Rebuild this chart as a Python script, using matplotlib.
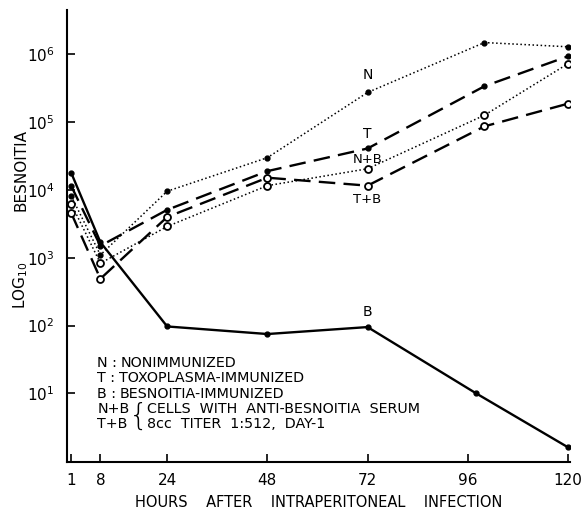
import matplotlib
matplotlib.use("Agg")
import matplotlib.pyplot as plt

plt.rcParams['font.family'] = ['DejaVu Sans']
plt.rcParams['mathtext.fontset'] = 'dejavusans'

# hours after infection (the "96" group is plotted a bit past the 96 tick)
hours = [1, 8, 24, 48, 72, 100, 120]
N = [8200, 1100, 9600, 30000, 275000, 1.5e6, 1.3e6]
T = [11500, 1500, 5100, 19000, 41000, 340000, 940000]
B_hours = [1, 8, 24, 48, 72, 98, 120]
B = [18000, 1700, 97, 75, 95, 10, 1.6]
NB = [6300, 830, 2900, 11600, 20600, 127000, 730000]
TB = [4600, 490, 4000, 15200, 11600, 87000, 188000]

xticks = [1, 8, 24, 48, 72, 96, 120]
yticks = [1e1, 1e2, 1e3, 1e4, 1e5, 1e6]
legend_keys = ["N : ", "T : ", "B : ", "N+B", "T+B"]
legend_text = ["NONIMMUNIZED",
               "TOXOPLASMA-IMMUNIZED",
               "BESNOITIA-IMMUNIZED",
               "CELLS  WITH  ANTI-BESNOITIA  SERUM",
               "8cc  TITER  1:512,  DAY-1"]

fig = plt.figure(figsize=(5.82, 5.11), dpi=100)
ax = fig.add_axes([0.1151, 0.0959, 0.8643, 0.8841])

ax.plot(hours, N, color='black', ls=':', lw=1.1, marker='o', ms=3.5, mfc='black')
ax.plot(hours, T, color='black', ls=(0, (7, 3.5)), lw=1.7, marker='o', ms=3.5, mfc='black')
ax.plot(B_hours, B, color='black', ls='-', lw=1.7, marker='o', ms=3.5, mfc='black')
ax.plot(hours, NB, color='black', ls=':', lw=1.1, marker='o', ms=5, mfc='white', mew=1.3)
ax.plot(hours, TB, color='black', ls=(0, (7, 3.5)), lw=1.7, marker='o', ms=5, mfc='white', mew=1.3)

# curve labels near the 72 h points
ax.text(hours[4], N[4] * 1.45, "N", ha='center', va='bottom', fontsize=10)
ax.text(hours[4], T[4] * 1.3, "T", ha='center', va='bottom', fontsize=10)
ax.text(hours[4], NB[4] * 1.1, "N+B", ha='center', va='bottom', fontsize=9.5)
ax.text(hours[4], TB[4] * 0.78, "T+B", ha='center', va='top', fontsize=9.5)
ax.text(B_hours[4], B[4] * 1.3, "B", ha='center', va='bottom', fontsize=10)

ax.set_yscale('log')
ax.set_ylim(0.97, 4.5e6)
ax.set_xlim(0, 120.5)
ax.set_xticks(xticks)
ax.set_xticklabels([str(h) for h in xticks], fontsize=11)
ax.set_yticks(yticks)
ax.set_yticklabels([r'$10^{%d}$' % k for k in range(1, 7)], fontsize=11)
ax.minorticks_off()
ax.tick_params(direction='in', length=6, width=1.2)
ax.tick_params(axis='y', pad=9)
ax.tick_params(axis='x', pad=8)

for s in ['top', 'right']:
    ax.spines[s].set_visible(False)
for s in ['left', 'bottom']:
    ax.spines[s].set_linewidth(1.5)

ax.set_xlabel("HOURS    AFTER    INTRAPERITONEAL    INFECTION", fontsize=10.5, labelpad=5)
fig.text(0.036, 0.667, "BESNOITIA", rotation=90, ha='center', va='center', fontsize=11)
fig.text(0.036, 0.442, r"LOG$_{10}$", rotation=90, ha='center', va='center', fontsize=11)

# legend block inside the axes
for i in range(len(legend_keys)):
    y = 1 - (363 + 15.3 * i) / 511
    fig.text(0.167, y, legend_keys[i], ha='left', va='center', fontsize=10.3)
    x_txt = 0.205 if i < 3 else 0.252
    if i == 0:
        x_txt = 0.207
    fig.text(x_txt, y, legend_text[i], ha='left', va='center', fontsize=10.3)
fig.text(0.238, 1 - 416 / 511, "{", ha='center', va='center', fontsize=22,
         fontweight='light')

fig.savefig("out.png", dpi=100)
